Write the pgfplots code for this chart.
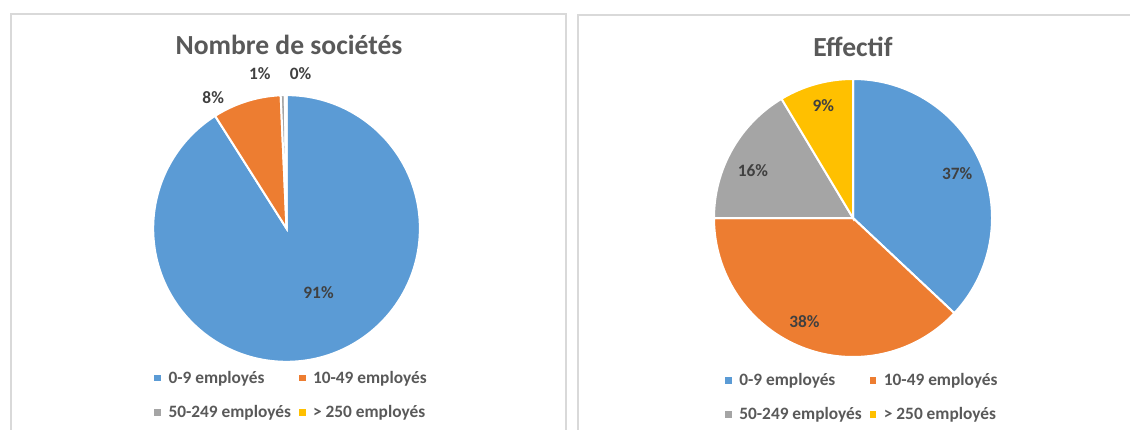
\documentclass[border=0pt]{standalone}
\usepackage{pgfplots}
\usepackage{pgfplotstable}
\pgfplotsset{compat=1.18}
\usepackage{fontspec}
\setmainfont{Carlito}

\definecolor{sblue}{HTML}{5B9BD5}
\definecolor{sorange}{HTML}{ED7D31}
\definecolor{sgray}{HTML}{A5A5A5}
\definecolor{syellow}{HTML}{FFC000}
\definecolor{txt}{HTML}{595959}
\definecolor{lbl}{HTML}{404040}
\definecolor{boxline}{HTML}{D9D9D9}

% share in %, shown label, label position (in radii), colour
\pgfplotstableread{
val   pct  lx      ly     col
91.0  91    0.24  -0.48   sblue
8.3   8    -0.55   0.985  sorange
0.5   1    -0.20   1.165  sgray
0.2   0     0.105  1.165  syellow
}\societes

\pgfplotstableread{
val   pct  lx      ly     col
37.0  37    0.75   0.32   sblue
38.0  38   -0.35  -0.743  sorange
16.4  16   -0.72   0.343  sgray
8.6   9    -0.214  0.807  syellow
}\effectif

\tikzset{pielabel/.style={font=\bfseries\fontsize{13}{15}\selectfont, text=lbl}}

% #1 table, #2 radius of the pie
\newcommand\drawpie[2]{%
  \def\cum{0}%
  \pgfplotsforeachungrouped \i in {0,1,2,3}{%
    \pgfplotstablegetelem{\i}{val}\of{#1}\let\sliceval\pgfplotsretval
    \pgfplotstablegetelem{\i}{col}\of{#1}\let\slicecol\pgfplotsretval
    \pgfmathsetmacro\angA{90-3.6*\cum}%
    \pgfmathsetmacro\cum{\cum+\sliceval}%
    \pgfmathsetmacro\angB{90-3.6*\cum}%
    \pgfmathsetmacro\sx{cos(\angA)}%
    \pgfmathsetmacro\sy{sin(\angA)}%
    \edef\cmd{\noexpand\fill[\slicecol, draw=white, line width=1.5pt]
      (axis cs:0,0) -- (axis cs:\sx,\sy)
      arc[start angle=\angA, end angle=\angB, radius=#2] -- cycle;}%
    \cmd
  }%
  \pgfplotsforeachungrouped \i in {0,1,2,3}{%
    \pgfplotstablegetelem{\i}{pct}\of{#1}\let\slicepct\pgfplotsretval
    \pgfplotstablegetelem{\i}{lx}\of{#1}\let\lx\pgfplotsretval
    \pgfplotstablegetelem{\i}{ly}\of{#1}\let\ly\pgfplotsretval
    \edef\cmd{\noexpand\node[pielabel] at (axis cs:\lx,\ly) {\slicepct\noexpand\%};}%
    \cmd
  }%
}

\pgfplotsset{
  pie/.style={
    anchor=center, scale only axis,
    xmin=-1, xmax=1, ymin=-1, ymax=1,
    hide axis, clip=false,
    legend columns=2, legend cell align=left,
    legend style={draw=none, fill=none, anchor=center,
      font=\bfseries\fontsize{13}{16}\selectfont, text=txt, row sep=11pt,
      nodes={inner xsep=0pt},
      /tikz/every odd column/.append style={column sep=6pt},
      /tikz/every even column/.append style={column sep=6pt}},
    legend image code/.code={\fill[##1] (0pt,-2pt) rectangle (4.2pt,2.2pt);},
  },
}

\begin{document}
\begin{tikzpicture}
\fill[white] (0,0) rectangle (847.5pt,321.75pt);
\useasboundingbox (0,0) rectangle (847.5pt,321.75pt);
\draw[boxline, line width=0.8pt] (8.25pt,-5pt) rectangle (424.5pt,311.25pt);
\draw[boxline, line width=0.8pt] (433.5pt,-5pt) rectangle (860pt,310.5pt);
\node[font=\bfseries\fontsize{20.7}{24}\selectfont, text=txt] at (216.75pt,288pt) {Nombre de sociétés};
\node[font=\bfseries\fontsize{20.7}{24}\selectfont, text=txt] at (639.75pt,286.5pt) {Effectif};

\begin{axis}[pie, at={(214.9pt,150.4pt)}, width=200pt, height=200pt,
  legend style={at={(0.515,-0.125)}}]
\drawpie{\societes}{100pt}
\addlegendimage{sblue}\addlegendentry{0-9 employés}
\addlegendimage{sorange}\addlegendentry{10-49 employés}
\addlegendimage{sgray}\addlegendentry{50-249 employés}
\addlegendimage{syellow}\addlegendentry{> 250 employés}
\end{axis}

\begin{axis}[pie, at={(639.75pt,158.25pt)}, width=208.5pt, height=208.5pt,
  legend style={at={(0.53,-0.145)}}]
\drawpie{\effectif}{104.25pt}
\addlegendimage{sblue}\addlegendentry{0-9 employés}
\addlegendimage{sorange}\addlegendentry{10-49 employés}
\addlegendimage{sgray}\addlegendentry{50-249 employés}
\addlegendimage{syellow}\addlegendentry{> 250 employés}
\end{axis}
\end{tikzpicture}
\end{document}
